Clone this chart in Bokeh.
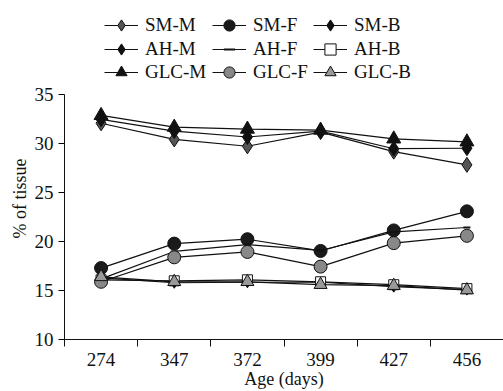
from bokeh.plotting import figure
from bokeh.models import FixedTicker, Range1d, Legend, Title
from bokeh.embed import file_html
from bokeh.resources import INLINE

days = ["274", "347", "372", "399", "427", "456"]
sm_m = [32.1, 30.45, 29.75, 31.2, 29.2, 27.85]
sm_f = [17.3, 19.8, 20.25, 19.05, 21.15, 23.1]
sm_b = [16.3, 15.8, 15.85, 15.85, 15.4, 15.1]
ah_m = [32.5, 31.3, 30.7, 31.3, 29.5, 29.55]
ah_f = [16.2, 19.0, 19.7, 19.1, 21.0, 21.45]
ah_b = [16.1, 16.0, 16.1, 15.9, 15.6, 15.2]
glc_m = [32.9, 31.7, 31.5, 31.4, 30.5, 30.2]
glc_f = [15.9, 18.4, 18.95, 17.45, 19.85, 20.6]
glc_b = [16.4, 15.9, 15.9, 15.6, 15.5, 15.05]
y_ticks = [10, 15, 20, 25, 30, 35]

FONT = "Liberation Serif"
x = [i + 0.5 for i in range(len(days))]

# frame spans the legend area too; the y axis line is bounded to 10..35
p = figure(width=503, height=391, output_backend="svg", toolbar_location=None,
           x_range=Range1d(0, len(days)), y_range=Range1d(10, 44.65),
           min_border_left=64, min_border_right=0, min_border_top=0, min_border_bottom=50)
p.outline_line_color = None
p.xgrid.grid_line_color = None
p.ygrid.grid_line_color = None

series = [
    ("SM-M", sm_m, "diamond", 15, "#555555"),
    ("SM-F", sm_f, "circle", 13, "#1a1a1a"),
    ("SM-B", sm_b, "diamond", 11, "#111111"),
    ("AH-M", ah_m, "diamond", 15, "#111111"),
    ("AH-F", ah_f, "dash", 7, "#111111"),
    ("AH-B", ah_b, "square", 10, "white"),
    ("GLC-M", glc_m, "triangle", 14, "#111111"),
    ("GLC-F", glc_f, "circle", 13, "#888888"),
    ("GLC-B", glc_b, "triangle", 13, "#999999"),
]

items = []
for name, vals, marker, size, fill in series:
    r1 = p.line(x, vals, line_color="#111111", line_width=1.2)
    if marker == "dash":
        r2 = p.scatter(x, vals, marker="dash", size=size, line_color="#111111", line_width=2)
    else:
        r2 = p.scatter(x, vals, marker=marker, size=size, fill_color=fill, line_color="#111111", line_width=1)
    items.append((name, [r1, r2]))

row_y = [300, 276, 253]
col_x = [40, 148, 249]
for k, item in enumerate(items):
    lg = Legend(items=[item], orientation="horizontal",
                label_text_font=FONT, label_text_font_size="19px",
                label_text_color="#111111",
                label_standoff=7, glyph_width=34, glyph_height=28,
                spacing=0, padding=0, margin=0, border_line_color=None,
                background_fill_alpha=0, label_height=20,
                location=(col_x[k % 3], row_y[k // 3]))
    p.add_layout(lg, "center")

p.xaxis.ticker = FixedTicker(ticks=x, minor_ticks=list(range(len(days))))
p.xaxis.major_label_overrides = {xi: d for xi, d in zip(x, days)}
p.xaxis.major_tick_line_color = None
p.xaxis.major_tick_out = 6
p.xaxis.minor_tick_line_color = "#111111"
p.xaxis.minor_tick_out = 7
p.xaxis.minor_tick_in = 0
p.xaxis.major_label_standoff = 6
p.xaxis.axis_label = "Age (days)"
p.xaxis.axis_label_standoff = 0
p.xaxis.axis_label_text_font = FONT
p.xaxis.axis_label_text_font_size = "18px"
p.xaxis.axis_label_text_font_style = "normal"
p.xaxis.axis_label_text_color = "#111111"

p.yaxis.ticker = FixedTicker(ticks=y_ticks, minor_ticks=[])
p.yaxis.bounds = (10, 35)
p.yaxis.major_tick_out = 6
p.yaxis.major_tick_in = 0

for ax in (p.xaxis[0], p.yaxis[0]):
    ax.axis_line_color = "#111111"
    ax.major_label_text_font = FONT
    ax.major_label_text_font_size = "19px"
    ax.major_label_text_color = "#111111"

# y axis title, placed along the bounded part of the axis
p.add_layout(Title(text="% of tissue", align="left", offset=101, standoff=4,
                   text_font=FONT, text_font_size="18px", text_font_style="normal",
                   text_color="#111111"), "left")

open("out.html", "w").write(file_html(p, INLINE))
